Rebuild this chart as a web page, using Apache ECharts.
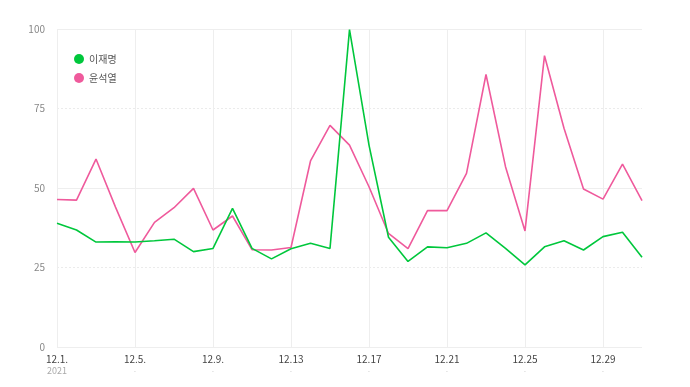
<!DOCTYPE html>
<html><head><meta charset="utf-8">
<script src="https://cdn.jsdelivr.net/npm/echarts@6/dist/echarts.min.js"></script>
<style>html,body{margin:0;padding:0;background:#fff}#c{width:690px;height:387px}</style>
</head><body><div id="c"></div>
<script>
const categories = ['12.1.','12.2.','12.3.','12.4.','12.5.','12.6.','12.7.','12.8.','12.9.','12.10','12.11','12.12','12.13','12.14','12.15','12.16','12.17','12.18','12.19','12.20','12.21','12.22','12.23','12.24','12.25','12.26','12.27','12.28','12.29','12.30','12.31'];
const leeValues = [38.9,36.8,33.0,33.1,33.0,33.4,33.9,30.0,31.0,43.6,31.0,27.7,30.9,32.6,31.0,99.8,63.5,34.5,26.9,31.5,31.2,32.6,35.9,31.0,25.8,31.5,33.4,30.5,34.7,36.1,28.2];
const yoonValues = [46.4,46.2,59.1,44.0,29.7,39.2,43.8,49.9,36.8,41.2,30.6,30.5,31.3,58.5,69.7,63.5,50.4,35.7,30.9,42.9,42.9,54.6,85.7,56.7,36.5,91.6,68.8,49.7,46.5,57.5,46.0];
const yTicks = [0,25,50,75,100];
const yearLabel = '2021';
const seriesNames = ['이재명','윤석열'];

const font = '"Noto Sans CJK KR","Noto Sans",sans-serif';
const chart = echarts.init(document.getElementById('c'));
chart.setOption({
  animation:false,
  color:['#00c73c','#ef5a9c'],
  legend:{orient:'vertical',left:69,top:49,itemWidth:10,itemHeight:10,itemGap:9,icon:'circle',
    textStyle:{fontSize:10,color:'#555',fontFamily:font},data:seriesNames},
  grid:{left:57,right:48,top:29,bottom:40},
  xAxis:{type:'category',data:categories,boundaryGap:false,
    axisLine:{show:false},axisTick:{show:false},
    axisLabel:{interval:3,margin:6,fontSize:10,color:'#444',fontFamily:font,lineHeight:12,
      formatter:(v,i)=> i===0 ? v+'\n{y|'+yearLabel+'}' : v+'\n{d|·}',
      rich:{y:{fontSize:9,color:'#aaa',fontFamily:font,lineHeight:12},d:{fontSize:8,color:'#ccc',lineHeight:12}}},
    splitLine:{show:true,interval:3,lineStyle:{color:'#eee',width:1}}},
  yAxis:[
    {type:'value',min:yTicks[0],max:yTicks[yTicks.length-1],interval:25,
      axisLine:{show:false},axisTick:{show:false},
      axisLabel:{margin:12,fontSize:10,color:'#888',fontFamily:font},
      splitLine:{lineStyle:{color:'#ebebeb',type:[2,2]}}},
    {type:'value',min:0,max:100,interval:50,position:'left',
      axisLine:{show:false},axisTick:{show:false},axisLabel:{show:false},
      splitLine:{lineStyle:{color:'#eee',width:1}}}
  ],
  series:[
    {name:seriesNames[0],type:'line',data:leeValues,symbol:'none',lineStyle:{width:1.6},z:3},
    {name:seriesNames[1],type:'line',data:yoonValues,symbol:'none',lineStyle:{width:1.6},z:2}
  ]
});
</script></body></html>
